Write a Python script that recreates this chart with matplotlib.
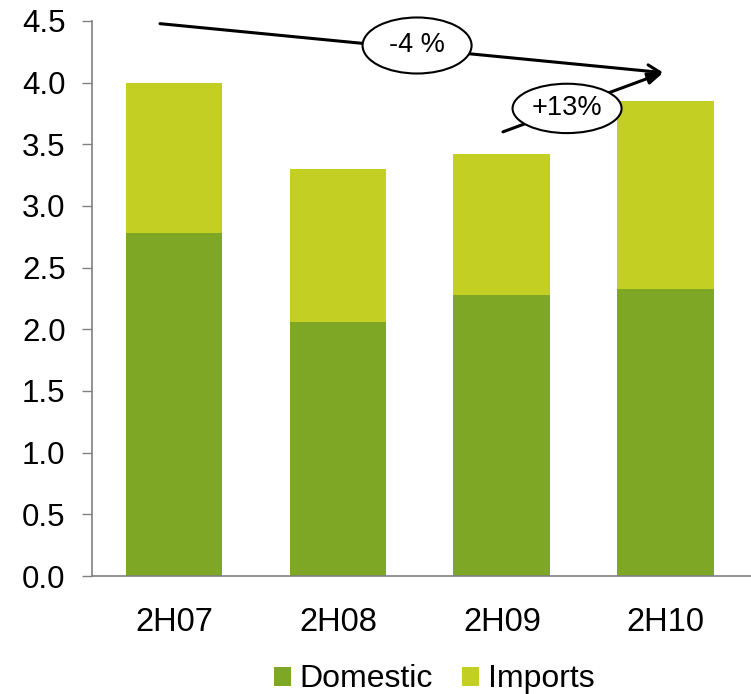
import numpy as np
import matplotlib.pyplot as plt
from matplotlib.patches import Ellipse

plt.rcParams['font.family'] = ['Liberation Sans', 'DejaVu Sans']

periods = ['2H07', '2H08', '2H09', '2H10']
domestic = [2.78, 2.06, 2.28, 2.33]
imports = [1.22, 1.24, 1.14, 1.52]
yticks = [0.0, 0.5, 1.0, 1.5, 2.0, 2.5, 3.0, 3.5, 4.0, 4.5]

c_dom = '#7ea726'
c_imp = '#c4cf24'

fig = plt.figure(figsize=(7.51, 6.94), dpi=100)
ax = fig.add_axes([0.1225, 0.170, 0.8775, 0.80])

x = np.arange(len(periods))
ax.bar(x, domestic, width=0.59, color=c_dom, label='Domestic')
ax.bar(x, imports, width=0.59, bottom=domestic, color=c_imp, label='Imports')

ax.set_xlim(-0.5, 3.52)
ax.set_ylim(0, 4.5)
ax.set_yticks(yticks)
ax.set_yticklabels([f'{v:.1f}' for v in yticks], fontsize=22.5)
ax.set_xticks(x)
ax.set_xticklabels(periods, fontsize=23.5)
ax.tick_params(axis='y', length=7, width=1, color='#808080', pad=12)
ax.tick_params(axis='x', length=0, pad=22)
for s in ['top', 'right']:
    ax.spines[s].set_visible(False)
for s in ['left', 'bottom']:
    ax.spines[s].set_color('#808080')
    ax.spines[s].set_linewidth(1.2)

# growth arrows, both ending at the same tip
tip = (2.985, 4.08)
ax.annotate('', xy=tip, xytext=(-0.085, 4.477),
            arrowprops=dict(arrowstyle='->,head_length=0.9,head_width=0.45', lw=2.2,
                            color='black', shrinkA=0, shrinkB=0),
            annotation_clip=False)
ax.annotate('', xy=tip, xytext=(2.007, 3.60),
            arrowprops=dict(arrowstyle='-|>,head_length=0.9,head_width=0.35', lw=2.2,
                            color='black', shrinkA=0, shrinkB=0),
            annotation_clip=False)

# labelled ellipses on the arrows
for (cx, cy, h, txt) in [(1.483, 4.30, 0.454, '-4 %'), (2.398, 3.79, 0.40, '+13%')]:
    ax.add_patch(Ellipse((cx, cy), 0.665, h, fc='white', ec='black', lw=1.5,
                         clip_on=False, zorder=5))
    ax.text(cx, cy, txt, fontsize=19.5, ha='center', va='center', zorder=6)

fig.legend(loc='center', bbox_to_anchor=(0.578, 0.021), ncol=2, frameon=False,
           fontsize=23, handlelength=0.53, handleheight=0.53, handletextpad=0.28,
           columnspacing=0.9, borderpad=0, borderaxespad=0)

fig.savefig('out.png', dpi=100)
